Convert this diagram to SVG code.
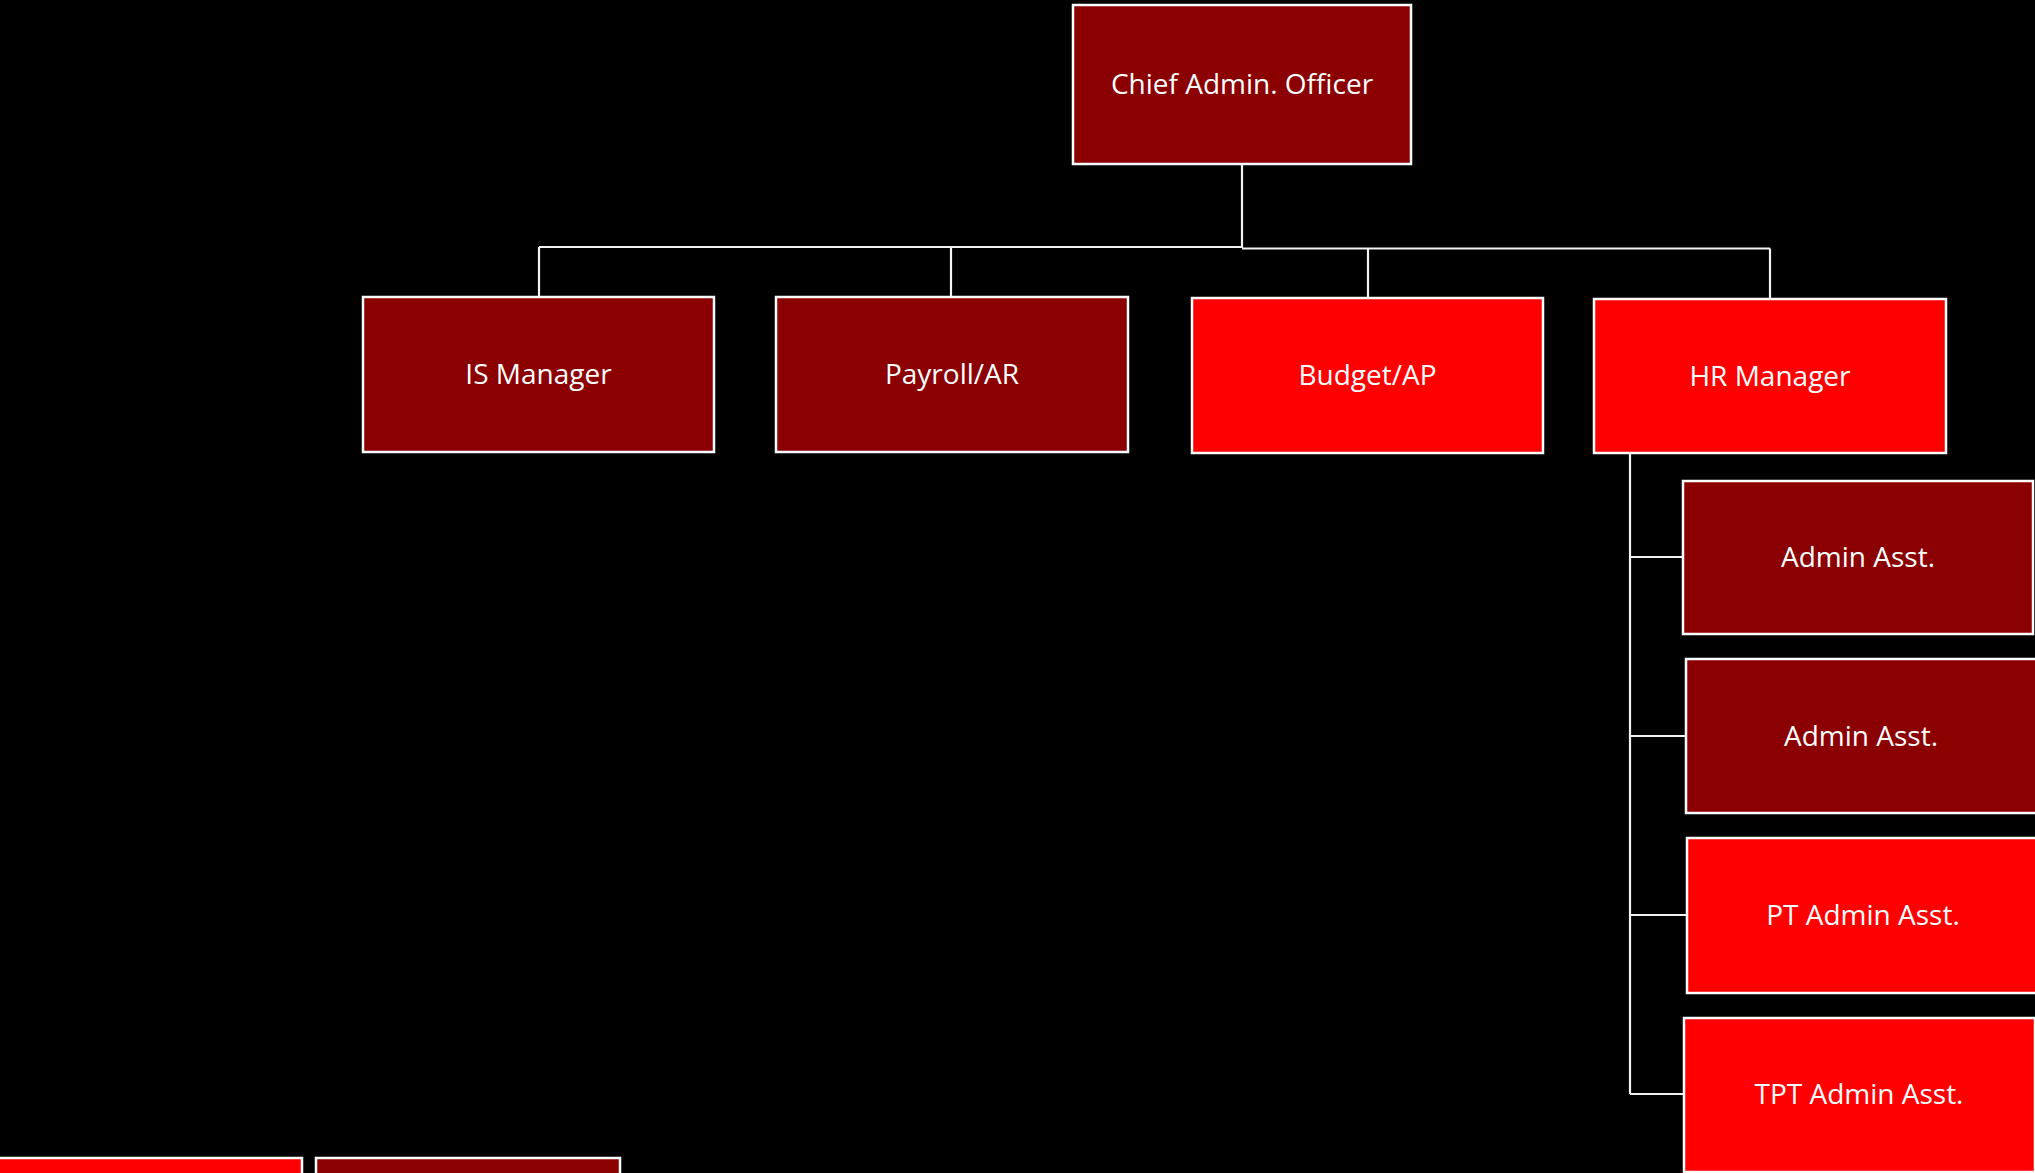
<svg xmlns="http://www.w3.org/2000/svg" width="2035" height="1173" viewBox="0 0 2035 1173">
<style>
.bg{fill:#000}
.dark{fill:#8B0000;stroke:#fff;stroke-width:2.5}
.red{fill:#FF0000;stroke:#fff;stroke-width:2.5}
.lbl{fill:#fff;font-family:"Open Sans","Liberation Sans",sans-serif;font-size:28px;text-anchor:middle}
.conn{fill:none;stroke:#f2f2f2;stroke-width:2.2}
</style>
<rect class="bg" x="0" y="0" width="2035" height="1173"/>
<g id="connectors">
<path class="conn" d="M1242 164V248M539 247H1242M1242 248.5H1770M539 247V297M951 247V297M1368 248.5V298M1770 248.5V299"/>
<path class="conn" d="M1630 453V1094M1630 557H1683M1630 736H1686M1630 915H1687M1630 1094H1684"/>
</g>
<g id="cao"><rect class="dark" x="1073" y="5" width="338" height="159"/><text class="lbl" x="1242" y="94">Chief Admin. Officer</text></g>
<g id="is"><rect class="dark" x="363" y="297" width="351" height="155"/><text class="lbl" x="538.5" y="384">IS Manager</text></g>
<g id="payroll"><rect class="dark" x="776" y="297" width="352" height="155"/><text class="lbl" x="952" y="384">Payroll/AR</text></g>
<g id="budget"><rect class="red" x="1192" y="298" width="351" height="155"/><text class="lbl" x="1367.5" y="385">Budget/AP</text></g>
<g id="hr"><rect class="red" x="1594" y="299" width="352" height="154"/><text class="lbl" x="1770" y="386">HR Manager</text></g>
<g id="admin1"><rect class="dark" x="1683" y="481" width="350" height="153"/><text class="lbl" x="1858" y="567">Admin Asst.</text></g>
<g id="admin2"><rect class="dark" x="1686" y="659" width="352" height="154"/><text class="lbl" x="1861" y="746">Admin Asst.</text></g>
<g id="ptadmin"><rect class="red" x="1687" y="838" width="352" height="155"/><text class="lbl" x="1863" y="925">PT Admin Asst.</text></g>
<g id="tptadmin"><rect class="red" x="1684" y="1018" width="351" height="154"/><text class="lbl" x="1859" y="1104">TPT Admin Asst.</text></g>
<g id="bottom1"><rect class="red" x="-10" y="1158" width="312" height="60"/></g>
<g id="bottom2"><rect class="dark" x="316" y="1158" width="304" height="60"/></g>
</svg>
